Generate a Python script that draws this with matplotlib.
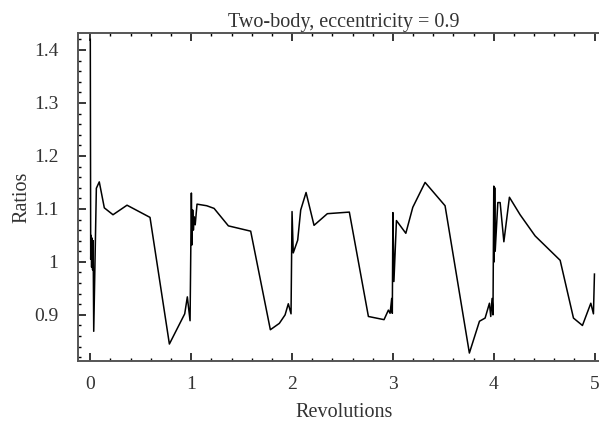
import matplotlib
matplotlib.use("Agg")
import matplotlib.pyplot as plt
from matplotlib.ticker import MultipleLocator, FixedFormatter, FixedLocator

# revolutions vs ratio
rev = [0.0, 0.004, 0.008, 0.013, 0.018, 0.023, 0.028, 0.034, 0.06, 0.089, 0.139, 0.225,
       0.364, 0.592, 0.784, 0.936, 0.962, 0.989, 1.002, 1.008, 1.015, 1.022, 1.03, 1.04,
       1.058, 1.154, 1.227, 1.369, 1.59, 1.785, 1.874, 1.931, 1.963, 1.99, 2.0, 2.012,
       2.056, 2.086, 2.139, 2.218, 2.35, 2.568, 2.757, 2.912, 2.955, 2.972, 2.988, 2.994,
       3.0, 3.01, 3.035, 3.128, 3.197, 3.319, 3.517, 3.758, 3.858, 3.914, 3.957, 3.97,
       3.983, 3.992, 4.0, 4.004, 4.009, 4.014, 4.04, 4.063, 4.10, 4.155, 4.261, 4.41,
       4.658, 4.79, 4.879, 4.962, 4.988, 4.998]
ratio = [1.42, 1.005, 1.05, 0.99, 1.045, 0.985, 1.04, 0.869, 1.139, 1.151, 1.102, 1.089,
         1.107, 1.084, 0.845, 0.902, 0.934, 0.889, 1.13, 1.032, 1.098, 1.06, 1.085, 1.07,
         1.109, 1.106, 1.101, 1.068, 1.058, 0.872, 0.884, 0.90, 0.921, 0.902, 1.095, 1.017,
         1.041, 1.098, 1.131, 1.069, 1.091, 1.094, 0.897, 0.891, 0.909, 0.903, 0.931, 0.903,
         1.093, 0.963, 1.078, 1.054, 1.103, 1.150, 1.106, 0.828, 0.888, 0.894, 0.922, 0.897,
         0.931, 0.90, 1.143, 1.0, 1.14, 1.02, 1.112, 1.112, 1.038, 1.122, 1.089, 1.049,
         1.003, 0.894, 0.880, 0.922, 0.902, 0.977]

xticks = [0, 1, 2, 3, 4, 5]
yticks = [0.9, 1.0, 1.1, 1.2, 1.3, 1.4]
ylabels = ["0.9", "1", "1.1", "1.2", "1.3", "1.4"]

plt.rcParams['font.family'] = ['Liberation Serif', 'DejaVu Serif']
txt = '#333333'

fig = plt.figure(figsize=(5.99, 4.23), dpi=100)
ax = fig.add_axes([0.1297, 0.1466, 1.018 - 0.1297, 0.922 - 0.1466])
ax.plot(rev, ratio, color='black', lw=1.1)

ax.set_xlim(-0.125, 5.15)
ax.set_ylim(0.813, 1.432)
ax.xaxis.set_major_locator(FixedLocator(xticks))
ax.xaxis.set_minor_locator(MultipleLocator(0.2))
ax.yaxis.set_major_locator(FixedLocator(yticks))
ax.yaxis.set_major_formatter(FixedFormatter(ylabels))
ax.yaxis.set_minor_locator(MultipleLocator(0.02))
ax.tick_params(which='both', direction='in', top=True, right=True, colors='black',
               labelcolor=txt, labelsize=14)
ax.tick_params(which='major', length=6, width=1.1)
ax.tick_params(which='minor', length=2.5, width=1.0)
ax.tick_params(axis='x', pad=11)
ax.tick_params(axis='y', pad=14)
for s in ax.spines.values():
    s.set_color('#555555')
    s.set_linewidth(1.4)

ax.set_xlabel('Revolutions', fontsize=14.5, color=txt, labelpad=7)
ax.set_ylabel('Ratios', fontsize=14.5, color=txt, labelpad=2)
ax.set_title('Two-body, eccentricity = 0.9', fontsize=14.5, color=txt, pad=4)

fig.savefig('out.png', dpi=100)
